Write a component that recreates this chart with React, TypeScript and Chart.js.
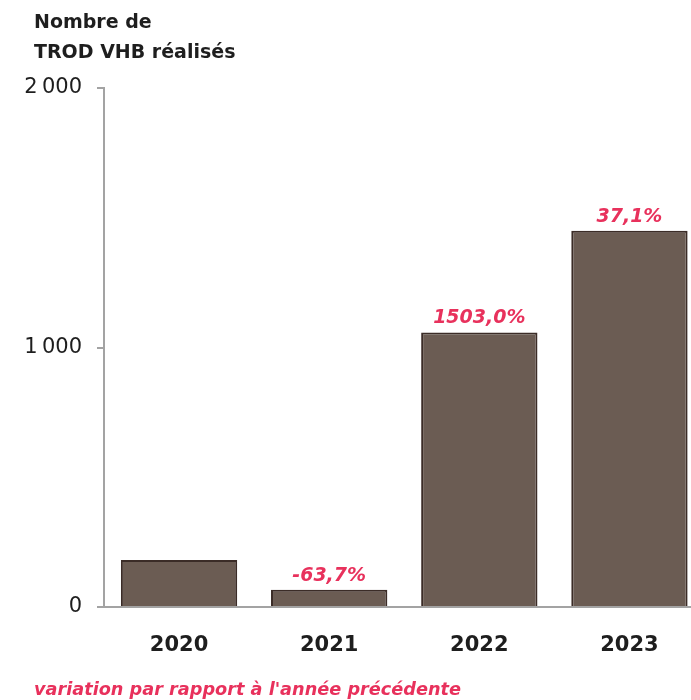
import React, { useEffect, useRef } from "react";
import { Chart, registerables } from "chart.js";

Chart.register(...registerables);

const years = ["2020", "2021", "2022", "2023"];
const tests = [181, 66, 1058, 1450];
const variations: (number | null)[] = [null, -63.7, 1503.0, 37.1];
const yTicks = [0, 1000, 2000];
const titleLines = ["Nombre de", "TROD VHB réalisés"];
const footNote = "variation par rapport à l'année précédente";

const PINK = "#e8315c";
const GREY = "#a3a3a3";
const TEXT = "#1e1e1e";
const FONT = "'DejaVu Sans', sans-serif";

const fmtThousands = (v: number) =>
  String(v).replace(/\B(?=(\d{3})+(?!\d))/g, "\u2009");

const textPlugin = {
  id: "textPlugin",
  afterDraw(chart: any) {
    const ctx = chart.ctx as CanvasRenderingContext2D;
    ctx.save();
    // title
    ctx.fillStyle = TEXT;
    ctx.font = `bold 19px ${FONT}`;
    ctx.textAlign = "left";
    ctx.textBaseline = "alphabetic";
    ctx.fillText(titleLines[0], 34, 28);
    ctx.fillText(titleLines[1], 34, 58);
    // footnote
    ctx.fillStyle = PINK;
    ctx.font = `italic bold 17.7px ${FONT}`;
    ctx.fillText(footNote, 34, 695);
    // data labels
    const meta = chart.getDatasetMeta(0);
    ctx.font = `italic bold 19px ${FONT}`;
    ctx.textAlign = "center";
    ctx.textBaseline = "alphabetic";
    meta.data.forEach((bar: any, i: number) => {
      const v = variations[i];
      if (v === null || v === undefined) return;
      const s = v.toFixed(1).replace(".", ",") + "%";
      ctx.fillText(s, bar.x, bar.y - 9);
    });
    ctx.restore();
  },
};

export default function App() {
  const ref = useRef<HTMLCanvasElement>(null);
  useEffect(() => {
    if (!ref.current) return;
    const chart = new Chart(ref.current, {
      type: "bar",
      data: {
        labels: years,
        datasets: [
          {
            data: tests,
            backgroundColor: "#6b5c53",
            borderColor: "#3b2c27",
            borderWidth: 2,
            borderSkipped: "bottom",
            categoryPercentage: 1,
            barPercentage: 0.775,
          },
        ],
      },
      options: {
        responsive: false,
        animation: false,
        layout: { padding: { top: 88, right: 15.5, left: 0, bottom: 0 } },
        plugins: {
          legend: { display: false },
          tooltip: { enabled: false },
          title: { display: false },
        },
        scales: {
          x: {
            grid: { display: true, drawOnChartArea: false, drawTicks: false },
            border: { display: true, color: GREY, width: 2 },
            ticks: {
              color: TEXT,
              font: { family: FONT, size: 21, weight: "bold" as any },
              padding: 26,
            },
            afterFit(scale: any) {
              scale.height = 93;
            },
          },
          y: {
            min: 0,
            max: 2000,
            afterBuildTicks(scale: any) {
              scale.ticks = yTicks.map((v) => ({ value: v }));
            },
            grid: {
              display: true,
              drawOnChartArea: false,
              drawTicks: true,
              tickLength: 7,
              color: GREY,
              lineWidth: 2,
            },
            border: { display: true, color: GREY, width: 2 },
            ticks: {
              color: TEXT,
              font: { family: FONT, size: 21, weight: "normal" as any },
              padding: 15,
              callback: (v: any) => fmtThousands(Number(v)),
            },
            afterFit(scale: any) {
              scale.width = 104;
            },
          },
        },
      },
      plugins: [textPlugin],
    });
    return () => chart.destroy();
  }, []);
  return (
    <div
      style={{
        position: "fixed",
        left: 0,
        top: 0,
        width: 691,
        height: 700,
        overflow: "hidden",
        background: "#fff",
      }}
    >
      <canvas ref={ref} width={720} height={700} style={{ display: "block" }} />
    </div>
  );
}
